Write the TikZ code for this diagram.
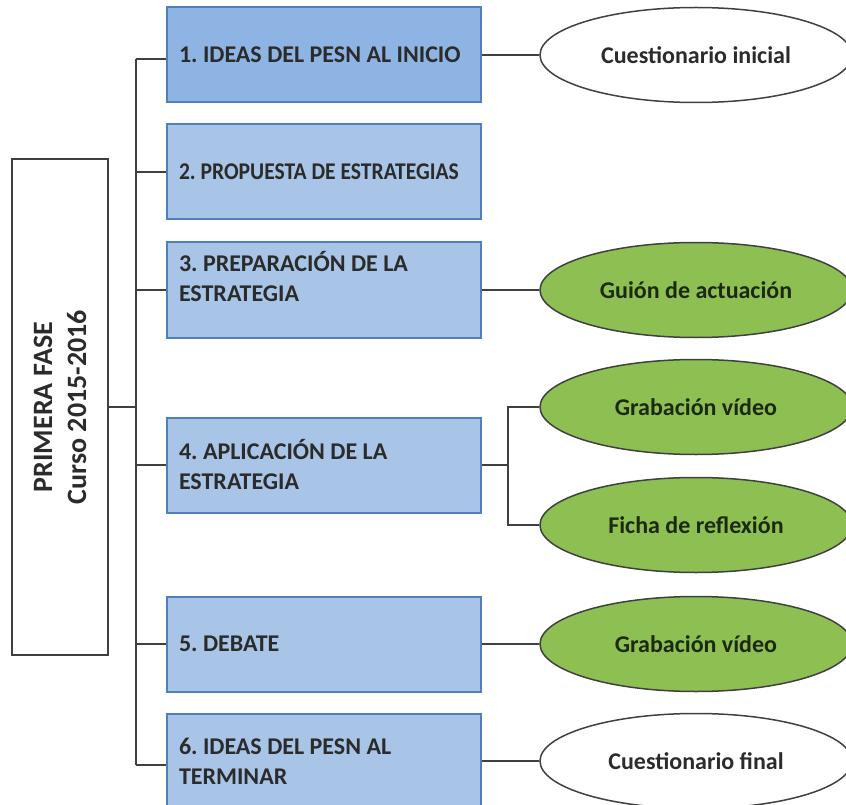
\documentclass[tikz,border=0pt]{standalone}
\usepackage{fontspec}
\setmainfont{Carlito}
\usetikzlibrary{shapes.geometric}
\definecolor{linea}{HTML}{404040}
\definecolor{borde}{HTML}{4F7FBC}
\definecolor{azuluno}{HTML}{8EB4E3}
\definecolor{azul}{HTML}{A8C4E6}
\definecolor{verde}{HTML}{8DBF52}
\definecolor{texto}{HTML}{2B2B2B}
\definecolor{textoverde}{HTML}{1B2A0E}
\frenchspacing

\begin{document}
\begin{tikzpicture}[x=1pt,y=-1pt,
  fase/.style={draw=linea,line width=2pt,fill=white,rotate=90,minimum width=496pt,minimum height=96pt,align=center,font=\fontsize{28}{34}\selectfont\bfseries,text=texto},
  paso/.style={draw=borde,line width=2pt,fill=azul,minimum height=95pt,text width=290pt,inner xsep=12pt,align=flush left,font=\fontsize{24}{30}\selectfont\bfseries,text=texto},
  recurso/.style={ellipse,draw=linea,line width=1.5pt,minimum width=312pt,minimum height=95pt,inner sep=0pt,font=\fontsize{24}{28}\selectfont\bfseries},
  blanco/.style={recurso,fill=white,text=texto},
  verdes/.style={recurso,fill=verde,text=textoverde},
  rama/.style={draw=linea,line width=2pt}]
\useasboundingbox (0,0) rectangle (846,805);

% fase
\node[fase] (fase) at (60,407) {PRIMERA FASE\\Curso 2015-2016};

% pasos
\node[paso,fill=azuluno] (p1) at (324,55) {1. IDEAS DEL PESN AL INICIO};
\node[paso] (p2) at (324,172) {\scalebox{0.9}[1]{2. PROPUESTA DE ESTRATEGIAS}};
\node[paso] (p3) at (324,290) {3. PREPARACIÓN DE LA\\ESTRATEGIA\\[-2pt]\mbox{}};
\node[paso] (p4) at (324,465) {4. APLICACIÓN DE LA\\ESTRATEGIA};
\node[paso] (p5) at (324,644) {5. DEBATE};
\node[paso] (p6) at (324,761) {6. IDEAS DEL PESN AL\\TERMINAR};

% recursos
\node[blanco] (c1) at (696,55) {Cuestionario inicial};
\node[verdes] (g1) at (696,290) {Guión de actuación};
\node[verdes] (v1) at (696,407) {Grabación vídeo};
\node[verdes] (f1) at (696,525) {Ficha de reflexión};
\node[verdes] (v2) at (696,644) {Grabación vídeo};
\node[blanco] (c2) at (696,761) {Cuestionario final};

% conexiones
\coordinate (t1) at (136,59);
\coordinate (t6) at (136,765);
\coordinate (r4) at (508,465);
\draw[rama] (t1) -- (t6);
\draw[rama] (fase.south) -- (fase.south -| t1);
\draw[rama] (t1) -- (t1 -| p1.west);
\foreach \p in {p2,p3,p4,p5} \draw[rama] (\p.west) -- (\p.west -| t1);
\draw[rama] (t6) -- (t6 -| p6.west);
\draw[rama] (p1.east) -- (c1.west);
\draw[rama] (p3.east) -- (g1.west);
\draw[rama] (p4.east) -- (r4);
\draw[rama] (v1.west) -- (v1.west -| r4) -- (f1.west -| r4) -- (f1.west);
\draw[rama] (p5.east) -- (v2.west);
\draw[rama] (p6.east) -- (c2.west);
\end{tikzpicture}
\end{document}
